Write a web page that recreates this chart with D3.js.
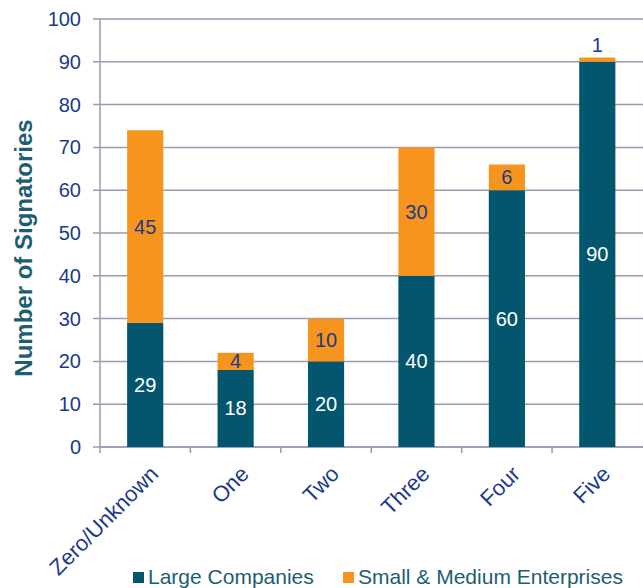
<!DOCTYPE html>
<html>
<head>
<meta charset="utf-8">
<script src="https://cdn.jsdelivr.net/npm/d3@7"></script>
<style>
  body { margin: 0; background: #fff; }
  text { font-family: "Liberation Sans", Arial, sans-serif; }
</style>
</head>
<body>
<svg id="drawing_region"></svg>
<script>
const categories = ['Zero/Unknown', 'One', 'Two', 'Three', 'Four', 'Five'];
const large = [29, 18, 20, 40, 60, 90];
const sme = [45, 4, 10, 30, 6, 1];
const yticks = [0, 10, 20, 30, 40, 50, 60, 70, 80, 90, 100];
const seriesNames = ['Large Companies', 'Small & Medium Enterprises'];
const colors = ['#03566e', '#f7941e'];

const width = 643, height = 588;
const margin = {top: 19, right: 0, bottom: 141, left: 100};
const inner_width = width - margin.left - margin.right;
const inner_height = height - margin.top - margin.bottom;

const svg = d3.select('#drawing_region')
    .attr('width', width)
    .attr('height', height);

const chart = svg.append('g')
    .attr('transform', `translate(${margin.left}, ${margin.top})`);

const xscale = d3.scaleBand()
    .domain(categories)
    .range([0, inner_width - 0.5]);

const yscale = d3.scaleLinear()
    .domain([0, 100])
    .range([inner_height, 0]);

// gridlines
chart.selectAll('.grid')
    .data(yticks)
    .enter()
    .append('line')
    .attr('x1', -7)
    .attr('x2', inner_width)
    .attr('y1', d => yscale(d))
    .attr('y2', d => yscale(d))
    .attr('stroke', '#9a9ab3')
    .attr('stroke-width', 1.5);

// y axis labels
chart.selectAll('.ylab')
    .data(yticks)
    .enter()
    .append('text')
    .attr('x', -19)
    .attr('y', d => yscale(d))
    .attr('dy', '0.35em')
    .attr('text-anchor', 'end')
    .attr('fill', '#1b3a8a')
    .attr('font-size', 20)
    .text(d => d);

// axis lines
chart.append('line')
    .attr('x1', 0).attr('x2', 0)
    .attr('y1', 0).attr('y2', inner_height)
    .attr('stroke', '#9a9ab3').attr('stroke-width', 1.5);
chart.append('line')
    .attr('x1', 0).attr('x2', inner_width)
    .attr('y1', inner_height).attr('y2', inner_height)
    .attr('stroke', '#9a9ab3').attr('stroke-width', 1.5);

// x ticks at band boundaries
chart.selectAll('.xtick')
    .data(categories)
    .enter()
    .append('line')
    .attr('x1', d => xscale(d))
    .attr('x2', d => xscale(d))
    .attr('y1', inner_height)
    .attr('y2', inner_height + 6)
    .attr('stroke', '#9a9ab3')
    .attr('stroke-width', 1.5);

const barw = xscale.bandwidth() * 0.4;
const bx = d => xscale(d) + xscale.bandwidth() / 2 - barw / 2;

// large companies
chart.selectAll('.large')
    .data(categories)
    .enter()
    .append('rect')
    .attr('x', d => bx(d))
    .attr('width', barw)
    .attr('y', (d, i) => yscale(large[i]))
    .attr('height', (d, i) => yscale(0) - yscale(large[i]))
    .attr('fill', colors[0]);

// SMEs
chart.selectAll('.sme')
    .data(categories)
    .enter()
    .append('rect')
    .attr('x', d => bx(d))
    .attr('width', barw)
    .attr('y', (d, i) => yscale(large[i] + sme[i]))
    .attr('height', (d, i) => yscale(large[i]) - yscale(large[i] + sme[i]))
    .attr('fill', colors[1]);

// labels in large segments
chart.selectAll('.llab')
    .data(categories)
    .enter()
    .append('text')
    .attr('x', d => xscale(d) + xscale.bandwidth() / 2)
    .attr('y', (d, i) => yscale(large[i] / 2))
    .attr('dy', '0.35em')
    .attr('text-anchor', 'middle')
    .attr('fill', '#ffffff')
    .attr('font-size', 20)
    .text((d, i) => large[i]);

// labels in SME segments (above bar when too small)
chart.selectAll('.slab')
    .data(categories)
    .enter()
    .append('text')
    .attr('x', d => xscale(d) + xscale.bandwidth() / 2)
    .attr('y', (d, i) => sme[i] < 3
        ? yscale(large[i] + sme[i]) - 13
        : yscale(large[i] + sme[i] / 2))
    .attr('dy', '0.35em')
    .attr('text-anchor', 'middle')
    .attr('fill', '#1b3a8a')
    .attr('font-size', 20)
    .text((d, i) => sme[i]);

// x labels rotated
chart.selectAll('.xlab')
    .data(categories)
    .enter()
    .append('text')
    .attr('transform', d => `translate(${xscale(d) + xscale.bandwidth() / 2 + 9}, ${inner_height + 23}) rotate(-45)`)
    .attr('text-anchor', 'end')
    .attr('dy', '0.35em')
    .attr('fill', '#1b3a8a')
    .attr('font-size', 22)
    .text(d => d);

// y title
svg.append('text')
    .attr('transform', `translate(32, 248) rotate(-90)`)
    .attr('text-anchor', 'middle')
    .attr('fill', '#1d5e73')
    .attr('font-size', 24)
    .attr('font-weight', 'bold')
    .text('Number of Signatories');

// legend
const legendX = [133, 343];
const legend = svg.selectAll('.legend')
    .data(seriesNames)
    .enter()
    .append('g')
    .attr('transform', (d, i) => `translate(${legendX[i]}, 584)`);
legend.append('rect')
    .attr('x', 0).attr('y', -12)
    .attr('width', 11).attr('height', 11)
    .attr('fill', (d, i) => colors[i]);
legend.append('text')
    .attr('x', 15)
    .attr('y', 0)
    .attr('fill', '#1d5e73')
    .attr('font-size', 21)
    .text(d => d);
</script>
</body>
</html>
